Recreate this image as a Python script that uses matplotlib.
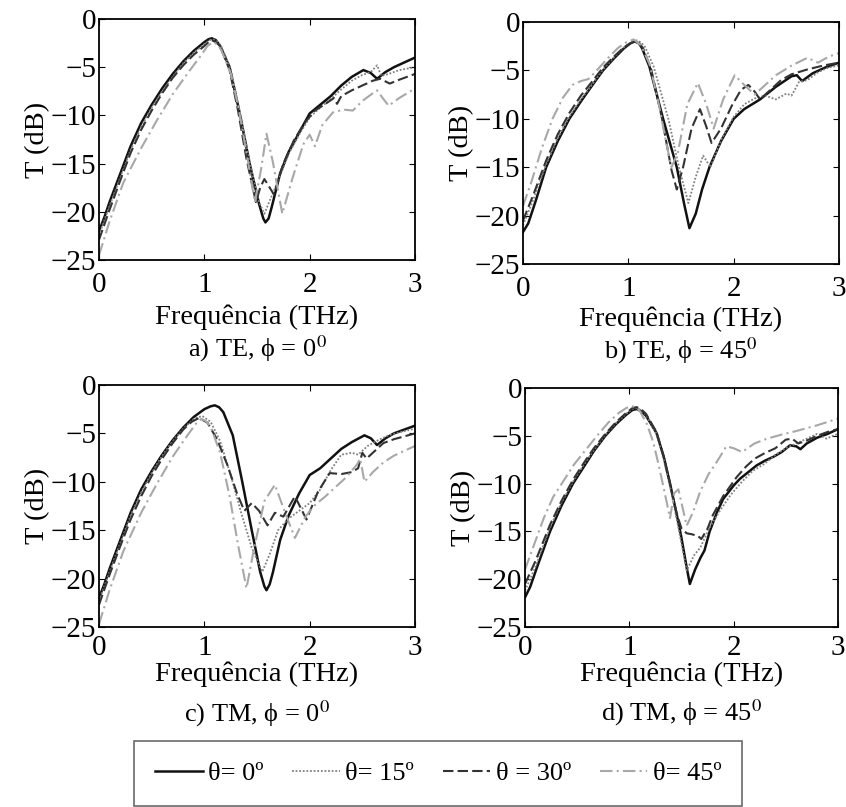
import numpy as np
import matplotlib
matplotlib.use("Agg")
import matplotlib.pyplot as plt

plt.rcParams['font.family'] = ['Liberation Serif', 'DejaVu Serif']
plt.rcParams['mathtext.fontset'] = 'stix'
plt.rcParams['axes.unicode_minus'] = True

# ---------------- data ----------------
# a) TE, phi = 0
f_a0 = [0, 0.05, 0.1, 0.2, 0.3, 0.4, 0.5, 0.6, 0.7, 0.8, 0.9, 1.0, 1.04, 1.07, 1.11, 1.15, 1.24, 1.34, 1.43, 1.52, 1.56, 1.58, 1.61, 1.64, 1.72, 1.8, 1.9, 2.0, 2.1, 2.2, 2.3, 2.4, 2.51, 2.58, 2.64, 2.72, 2.8, 2.9, 3.0]
T_a0 = [-22.0, -20.6, -19.0, -16.1, -13.2, -10.8, -8.9, -7.2, -5.7, -4.4, -3.3, -2.4, -2.1, -2.0, -2.2, -2.8, -5.0, -10.0, -15.0, -19.2, -20.7, -21.1, -20.7, -19.5, -16.0, -13.8, -11.8, -9.8, -8.9, -8.0, -6.9, -6.0, -5.3, -5.6, -6.2, -5.5, -5.0, -4.5, -4.0]
f_a15 = [0, 0.1, 0.2, 0.3, 0.4, 0.5, 0.6, 0.7, 0.8, 0.9, 1.0, 1.05, 1.08, 1.12, 1.16, 1.25, 1.35, 1.44, 1.52, 1.57, 1.63, 1.7, 1.8, 1.9, 2.0, 2.1, 2.2, 2.3, 2.4, 2.5, 2.58, 2.64, 2.68, 2.75, 2.85, 3.0]
T_a15 = [-22.4, -19.4, -16.5, -13.6, -11.2, -9.2, -7.5, -6.0, -4.6, -3.5, -2.6, -2.2, -2.1, -2.3, -2.8, -5.2, -10.3, -15.3, -19.0, -20.2, -18.6, -16.8, -14.0, -12.0, -10.2, -9.2, -8.3, -7.3, -6.4, -5.8, -5.5, -4.8, -5.9, -5.7, -5.3, -5.0]
f_a30 = [0, 0.1, 0.2, 0.3, 0.4, 0.5, 0.6, 0.7, 0.8, 0.9, 1.0, 1.04, 1.07, 1.11, 1.15, 1.24, 1.32, 1.4, 1.49, 1.53, 1.57, 1.61, 1.66, 1.75, 1.85, 1.95, 2.05, 2.15, 2.23, 2.26, 2.3, 2.4, 2.5, 2.6, 2.67, 2.76, 2.85, 3.0]
T_a30 = [-22.9, -19.8, -16.8, -13.9, -11.5, -9.5, -7.7, -6.1, -4.8, -3.7, -2.8, -2.4, -2.2, -2.4, -2.8, -5.3, -9.5, -14.5, -19.0, -17.5, -16.6, -17.3, -18.2, -15.0, -12.6, -10.8, -9.5, -8.8, -8.2, -8.8, -8.0, -7.4, -6.9, -6.4, -6.2, -6.7, -6.3, -5.7]
f_a45 = [0, 0.1, 0.23, 0.4, 0.55, 0.7, 0.85, 0.96, 1.03, 1.08, 1.12, 1.16, 1.25, 1.33, 1.41, 1.48, 1.54, 1.59, 1.65, 1.74, 1.84, 1.94, 2.0, 2.05, 2.12, 2.22, 2.32, 2.41, 2.5, 2.6, 2.64, 2.7, 2.75, 2.85, 3.0]
T_a45 = [-24.5, -21.0, -17.0, -13.4, -10.5, -7.8, -5.5, -3.9, -2.8, -2.4, -2.6, -3.2, -5.6, -9.5, -14.5, -19.0, -15.5, -11.9, -14.8, -20.2, -16.4, -13.0, -12.0, -13.2, -11.0, -9.7, -9.4, -9.5, -8.5, -7.7, -7.4, -8.3, -9.0, -8.2, -7.2]

# b) TE, phi = 45
f_b0 = [0, 0.05, 0.12, 0.22, 0.33, 0.44, 0.55, 0.66, 0.76, 0.86, 0.96, 1.02, 1.06, 1.1, 1.13, 1.2, 1.33, 1.46, 1.53, 1.58, 1.64, 1.7, 1.77, 1.88, 2.0, 2.1, 2.25, 2.4, 2.55, 2.6, 2.65, 2.75, 2.87, 3.0]
T_b0 = [-21.7, -20.8, -18.5, -15.0, -12.3, -10.0, -8.2, -6.5, -5.0, -3.8, -2.7, -2.2, -2.0, -2.2, -2.7, -4.6, -10.0, -15.0, -18.8, -21.3, -19.8, -17.3, -15.0, -12.3, -10.0, -9.0, -8.0, -6.7, -5.6, -5.5, -6.1, -5.3, -4.7, -4.2]
f_b15 = [0, 0.1, 0.22, 0.33, 0.44, 0.55, 0.66, 0.76, 0.86, 0.96, 1.04, 1.08, 1.12, 1.16, 1.24, 1.38, 1.48, 1.57, 1.64, 1.71, 1.78, 1.88, 2.0, 2.1, 2.2, 2.3, 2.4, 2.5, 2.55, 2.62, 2.7, 2.8, 2.9, 3.0]
T_b15 = [-21.0, -18.3, -14.7, -12.0, -9.8, -8.0, -6.4, -4.9, -3.7, -2.6, -2.0, -1.9, -2.1, -2.6, -4.6, -10.0, -15.0, -18.7, -16.0, -13.8, -15.0, -12.2, -9.8, -8.5, -7.9, -7.6, -8.0, -7.4, -7.6, -6.2, -6.0, -5.2, -4.7, -4.5]
f_b30 = [0, 0.1, 0.22, 0.33, 0.44, 0.55, 0.66, 0.76, 0.86, 0.96, 1.02, 1.06, 1.1, 1.14, 1.22, 1.32, 1.41, 1.46, 1.52, 1.6, 1.68, 1.74, 1.79, 1.88, 1.98, 2.07, 2.14, 2.2, 2.25, 2.35, 2.45, 2.55, 2.7, 2.85, 3.0]
T_b30 = [-20.5, -17.8, -14.3, -11.6, -9.4, -7.6, -6.1, -4.7, -3.6, -2.6, -2.2, -2.0, -2.2, -2.7, -5.0, -10.0, -15.3, -17.3, -15.0, -11.0, -9.0, -10.8, -12.5, -11.0, -8.7, -7.0, -6.5, -7.2, -8.0, -7.0, -6.0, -5.4, -4.9, -4.5, -4.2]
f_b45 = [0, 0.08, 0.18, 0.28, 0.38, 0.47, 0.55, 0.62, 0.7, 0.8, 0.9, 0.98, 1.05, 1.12, 1.2, 1.28, 1.36, 1.41, 1.47, 1.56, 1.66, 1.74, 1.81, 1.9, 2.01, 2.1, 2.2, 2.3, 2.4, 2.55, 2.7, 2.8, 2.9, 3.0]
T_b45 = [-19.0, -16.5, -13.0, -10.0, -7.8, -6.5, -6.1, -5.9, -5.0, -3.8, -2.7, -2.1, -1.8, -2.4, -4.3, -8.0, -12.5, -15.0, -13.5, -8.5, -6.3, -8.5, -11.0, -8.0, -5.5, -6.5, -7.5, -6.5, -5.5, -4.5, -3.7, -4.2, -3.6, -3.2]

# c) TM, phi = 0
f_c0 = [0, 0.05, 0.1, 0.2, 0.3, 0.4, 0.5, 0.6, 0.7, 0.8, 0.9, 1.0, 1.06, 1.1, 1.14, 1.18, 1.27, 1.36, 1.45, 1.53, 1.57, 1.59, 1.62, 1.65, 1.72, 1.8, 1.9, 2.0, 2.1, 2.2, 2.3, 2.4, 2.52, 2.58, 2.64, 2.72, 2.8, 2.9, 3.0]
T_c0 = [-22.0, -20.6, -19.0, -16.1, -13.2, -10.8, -8.9, -7.2, -5.7, -4.4, -3.3, -2.5, -2.2, -2.1, -2.3, -2.8, -5.2, -10.0, -15.0, -19.3, -20.8, -21.2, -20.6, -19.4, -16.0, -13.5, -11.2, -9.3, -8.6, -7.6, -6.6, -5.9, -5.2, -5.5, -6.2, -5.5, -5.0, -4.6, -4.2]
f_c15 = [0, 0.1, 0.2, 0.3, 0.4, 0.5, 0.6, 0.7, 0.8, 0.9, 0.98, 1.06, 1.15, 1.25, 1.35, 1.45, 1.55, 1.62, 1.7, 1.8, 1.9, 2.0, 2.1, 2.2, 2.3, 2.4, 2.46, 2.55, 2.65, 2.75, 2.85, 3.0]
T_c15 = [-22.3, -19.3, -16.4, -13.5, -11.1, -9.1, -7.3, -5.8, -4.5, -3.5, -3.2, -3.8, -5.8, -9.3, -13.2, -16.8, -19.3, -17.5, -15.0, -13.8, -13.0, -12.2, -10.8, -8.8, -7.2, -7.0, -7.2, -6.3, -5.7, -5.2, -4.9, -4.5]
f_c30 = [0, 0.1, 0.2, 0.3, 0.4, 0.5, 0.6, 0.7, 0.8, 0.88, 0.95, 1.03, 1.12, 1.22, 1.31, 1.38, 1.45, 1.52, 1.6, 1.67, 1.75, 1.86, 1.97, 2.08, 2.19, 2.3, 2.4, 2.46, 2.5, 2.54, 2.62, 2.7, 2.8, 2.9, 3.0]
T_c30 = [-22.7, -19.6, -16.7, -13.9, -11.5, -9.4, -7.6, -6.0, -4.6, -3.8, -3.4, -3.9, -5.6, -8.3, -11.2, -13.0, -12.2, -13.0, -14.5, -13.2, -13.6, -11.5, -13.9, -11.0, -9.1, -9.2, -9.0, -8.6, -7.0, -7.6, -6.8, -6.0, -5.6, -5.3, -5.0]
f_c45 = [0, 0.1, 0.23, 0.4, 0.55, 0.7, 0.82, 0.92, 0.97, 1.01, 1.06, 1.15, 1.24, 1.32, 1.4, 1.47, 1.57, 1.67, 1.76, 1.86, 1.96, 2.05, 2.15, 2.25, 2.35, 2.45, 2.48, 2.52, 2.6, 2.7, 2.8, 2.9, 3.0]
T_c45 = [-24.7, -21.2, -17.2, -13.2, -10.2, -7.4, -5.5, -4.0, -3.5, -3.7, -4.3, -7.0, -11.5, -16.5, -21.0, -17.0, -12.0, -10.3, -13.0, -15.8, -13.6, -12.4, -11.5, -10.5, -9.5, -8.2, -7.6, -10.0, -9.0, -8.0, -7.3, -6.8, -6.3]

# d) TM, phi = 45
f_d0 = [0, 0.05, 0.12, 0.24, 0.35, 0.46, 0.56, 0.66, 0.77, 0.87, 0.97, 1.03, 1.07, 1.11, 1.16, 1.26, 1.33, 1.39, 1.45, 1.5, 1.55, 1.58, 1.63, 1.68, 1.72, 1.77, 1.84, 1.9, 2.0, 2.06, 2.14, 2.22, 2.3, 2.38, 2.46, 2.54, 2.6, 2.64, 2.7, 2.8, 2.9, 3.0]
T_d0 = [-21.9, -20.8, -18.6, -15.0, -12.3, -10.0, -8.3, -6.6, -5.0, -3.8, -2.8, -2.3, -2.2, -2.4, -2.9, -4.7, -7.2, -10.0, -13.0, -15.7, -18.8, -20.5, -19.0, -17.8, -17.0, -15.0, -13.0, -11.6, -10.2, -9.5, -8.8, -8.1, -7.6, -7.2, -6.7, -6.0, -6.1, -6.4, -5.8, -5.2, -4.8, -4.3]
f_d15 = [0, 0.1, 0.24, 0.35, 0.46, 0.56, 0.66, 0.77, 0.87, 0.97, 1.03, 1.07, 1.11, 1.16, 1.26, 1.33, 1.4, 1.47, 1.55, 1.62, 1.68, 1.71, 1.77, 1.87, 1.97, 2.08, 2.18, 2.3, 2.4, 2.5, 2.6, 2.7, 2.8, 2.89, 2.95, 3.0]
T_d15 = [-21.2, -18.7, -14.6, -12.0, -9.8, -8.1, -6.5, -4.9, -3.7, -2.7, -2.2, -2.1, -2.3, -2.8, -4.8, -7.5, -10.8, -14.6, -19.1, -17.5, -16.7, -16.0, -14.6, -12.8, -11.2, -9.8, -8.7, -7.9, -7.0, -6.3, -5.8, -5.3, -4.8, -5.3, -5.0, -4.8]
f_d30 = [0, 0.1, 0.24, 0.35, 0.46, 0.56, 0.66, 0.77, 0.87, 0.97, 1.03, 1.07, 1.11, 1.16, 1.26, 1.33, 1.39, 1.45, 1.5, 1.55, 1.6, 1.66, 1.69, 1.75, 1.8, 1.9, 2.03, 2.12, 2.2, 2.3, 2.4, 2.5, 2.56, 2.62, 2.7, 2.8, 2.9, 3.0]
T_d30 = [-20.5, -18.1, -14.3, -11.8, -9.6, -7.9, -6.3, -4.8, -3.6, -2.6, -2.1, -2.0, -2.2, -2.7, -4.6, -7.2, -10.0, -13.0, -14.7, -15.2, -15.3, -15.5, -15.8, -14.7, -13.3, -11.3, -9.3, -8.2, -7.4, -6.8, -6.3, -5.4, -5.3, -5.8, -5.5, -5.0, -4.6, -4.3]
f_d45 = [0, 0.08, 0.18, 0.27, 0.37, 0.47, 0.58, 0.69, 0.8, 0.9, 0.97, 1.02, 1.06, 1.1, 1.17, 1.23, 1.28, 1.33, 1.39, 1.43, 1.47, 1.51, 1.55, 1.61, 1.68, 1.76, 1.84, 1.93, 2.0, 2.08, 2.2, 2.32, 2.45, 2.6, 2.8, 3.0]
T_d45 = [-19.0, -16.6, -13.6, -11.4, -9.7, -8.0, -6.5, -5.0, -3.6, -2.6, -2.1, -1.9, -2.0, -2.4, -3.8, -5.7, -8.0, -10.5, -13.6, -11.0, -10.6, -12.5, -14.4, -13.0, -10.8, -9.0, -7.7, -6.1, -6.3, -6.7, -5.8, -5.3, -4.9, -4.5, -3.9, -3.2]

captions = [r"a) TE, ϕ = 0$^0$", r"b) TE, ϕ = 45$^0$",
            r"c) TM, ϕ = 0$^0$", r"d) TM, ϕ = 45$^0$"]
legend_labels = ["θ= 0º", "θ= 15º", "θ = 30º", "θ= 45º"]

panels = [
    [(f_a0, T_a0), (f_a15, T_a15), (f_a30, T_a30), (f_a45, T_a45)],
    [(f_b0, T_b0), (f_b15, T_b15), (f_b30, T_b30), (f_b45, T_b45)],
    [(f_c0, T_c0), (f_c15, T_c15), (f_c30, T_c30), (f_c45, T_c45)],
    [(f_d0, T_d0), (f_d15, T_d15), (f_d30, T_d30), (f_d45, T_d45)],
]

styles = [
    dict(color='#111111', lw=1.8, ls='-'),
    dict(color='#808080', lw=1.3, ls=(0, (1, 1))),
    dict(color='#333333', lw=1.5, ls=(0, (5, 2))),
    dict(color='#a8a8a8', lw=1.5, ls=(0, (6, 2, 1, 2))),
]

# axes boxes in pixels (left, top, right, bottom)
W, H = 846, 807
boxes = [(99, 19, 415, 260), (523, 22, 839, 264), (99, 385, 415, 627), (525, 388, 838, 627)]
# top row has more room under the tick labels than the bottom row
xtick_pads = [9, 9, 6, 6]
xlabel_pads = [4, 3, 0, 0]
caption_y = [-0.37, -0.36, -0.36, -0.36]

fig = plt.figure(figsize=(W / 100, H / 100), dpi=100)

handles = None
for k, (box, curves) in enumerate(zip(boxes, panels)):
    l, t, r_, b = box
    ax = fig.add_axes([l / W, 1 - b / H, (r_ - l) / W, (b - t) / H])
    hs = []
    for (f, T), st in zip(curves, styles):
        h, = ax.plot(f, T, **st)
        hs.append(h)
    if handles is None:
        handles = hs
    ax.set_xlim(0, 3)
    ax.set_ylim(-25, 0)
    ax.set_xticks([0, 1, 2, 3])
    ax.set_yticks([0, -5, -10, -15, -20, -25])
    ax.tick_params(direction='in', top=True, right=True, length=4, labelsize=21, pad=2)
    ax.tick_params(axis='x', pad=xtick_pads[k])
    for s in ax.spines.values():
        s.set_linewidth(1.3)
    ax.set_xlabel("Frequência (THz)", fontsize=20.5, labelpad=xlabel_pads[k])
    ax.set_ylabel("T (dB)", fontsize=20.5, labelpad=0)
    ax.text(0.5, caption_y[k], captions[k], transform=ax.transAxes, ha='center', va='center', fontsize=19)

leg = fig.legend(handles, legend_labels, loc='lower center', bbox_to_anchor=(0.518, -0.009),
                 ncol=4, fontsize=19, frameon=True, fancybox=False, edgecolor='#444444',
                 handlelength=1.8, handletextpad=0.2, columnspacing=1.1, borderpad=0.8,
                 borderaxespad=0.3)
leg.get_frame().set_linewidth(1.2)

fig.savefig("out.png", dpi=100)
